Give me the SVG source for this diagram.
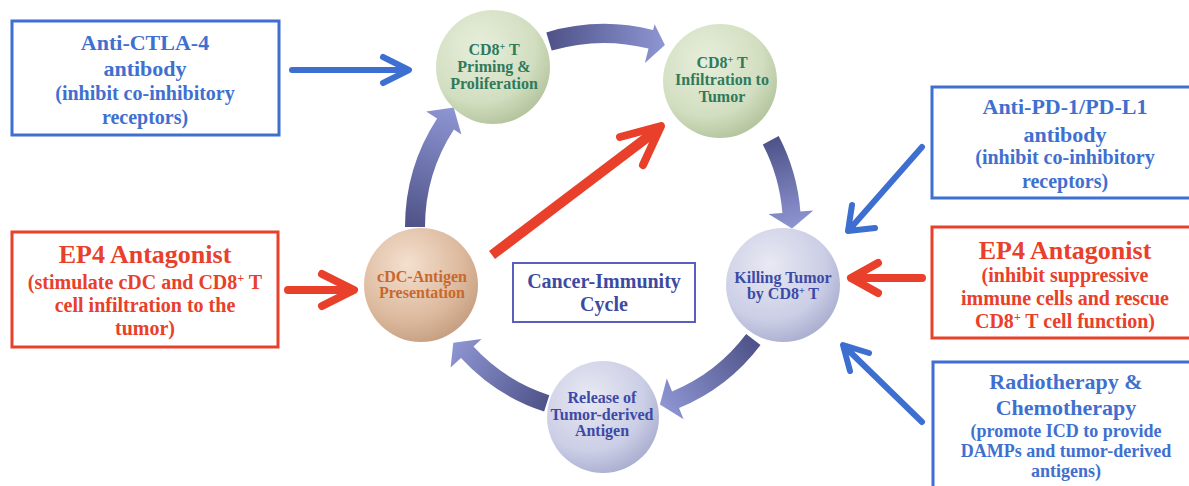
<svg xmlns="http://www.w3.org/2000/svg" width="1189" height="486" viewBox="0 0 1189 486">
  <style>
    text { font-family: "Liberation Serif", "Times New Roman", serif; font-weight: bold; text-anchor: middle; }
    .blue { fill: #4070cf; }
    .red { fill: #e8402b; }
    .green-t { fill: #2f7a5b; font-size: 16px; }
    .orange-t { fill: #c9682d; font-size: 16px; }
    .lav-t { fill: #3c4aa6; font-size: 16px; }
    .title { font-size: 22px; }
    .ep4 { font-size: 26px; }
    .sub { font-size: 20px; }
    .small { font-size: 18px; }
    .box-blue { fill: #ffffff; stroke: #3f6fd0; stroke-width: 3; }
    .box-red { fill: #ffffff; stroke: #e8402b; stroke-width: 3; }
    .line-blue { fill: none; stroke: #3d6fd0; stroke-width: 6; stroke-linecap: round; stroke-linejoin: round; }
    .line-red { fill: none; stroke: #e8402b; stroke-width: 8; stroke-linecap: round; stroke-linejoin: round; }
    .line-red-big { fill: none; stroke: #e8402b; stroke-width: 10; stroke-linecap: butt; stroke-linejoin: round; }
  </style>
  <defs>
    <radialGradient id="gGreen" cx="0.38" cy="0.32" r="0.75">
      <stop offset="0" stop-color="#e7eedb"/>
      <stop offset="0.65" stop-color="#d2dec0"/>
      <stop offset="1" stop-color="#afc098"/>
    </radialGradient>
    <radialGradient id="gPeach" cx="0.38" cy="0.32" r="0.75">
      <stop offset="0" stop-color="#f4e0cf"/>
      <stop offset="0.65" stop-color="#dcb99d"/>
      <stop offset="1" stop-color="#c39b7d"/>
    </radialGradient>
    <radialGradient id="gLav" cx="0.38" cy="0.32" r="0.75">
      <stop offset="0" stop-color="#e8e9f3"/>
      <stop offset="0.65" stop-color="#cbcee5"/>
      <stop offset="1" stop-color="#a5aacd"/>
    </radialGradient>
    <linearGradient id="a1" gradientUnits="userSpaceOnUse" x1="415" y1="227" x2="454" y2="108">
      <stop offset="0" stop-color="#4f5389"/><stop offset="1" stop-color="#8e96d3"/>
    </linearGradient>
    <linearGradient id="a2" gradientUnits="userSpaceOnUse" x1="549" y1="41" x2="665" y2="45">
      <stop offset="0" stop-color="#4f5389"/><stop offset="1" stop-color="#8e96d3"/>
    </linearGradient>
    <linearGradient id="a3" gradientUnits="userSpaceOnUse" x1="771" y1="140" x2="792" y2="229">
      <stop offset="0" stop-color="#4f5389"/><stop offset="1" stop-color="#8e96d3"/>
    </linearGradient>
    <linearGradient id="a4" gradientUnits="userSpaceOnUse" x1="753" y1="340" x2="660" y2="404">
      <stop offset="0" stop-color="#4f5389"/><stop offset="1" stop-color="#8e96d3"/>
    </linearGradient>
    <linearGradient id="a5" gradientUnits="userSpaceOnUse" x1="547" y1="403" x2="453" y2="343">
      <stop offset="0" stop-color="#4f5389"/><stop offset="1" stop-color="#8e96d3"/>
    </linearGradient>
  </defs>

  <rect width="1189" height="486" fill="#ffffff"/>

  <!-- connectors: curved cycle arrows, then straight intervention arrows -->
  <g id="connectors">
    <path id="cyc-1" fill="url(#a1)" d="M405,227 A199,199 0 0 1 437.1,118.6 L426.2,111.5 L453.7,107.5 L461.4,134.4 L453.9,129.5 A179,179 0 0 0 425,227 Z"/>
    <path id="cyc-2" fill="url(#a2)" d="M546.3,32.4 A203,203 0 0 1 653.1,30.0 L654.6,24.2 L664.9,44.9 L644.9,63.0 L648.5,48.5 A184,184 0 0 0 551.7,50.6 Z"/>
    <path id="cyc-3" fill="url(#a3)" d="M778.7,136.0 A197,197 0 0 1 800.4,211.5 L813.3,210.5 L792,228.6 L768.5,214.0 L782.4,212.9 A179,179 0 0 0 762.8,144.4 Z"/>
    <path id="cyc-4" fill="url(#a4)" d="M760.5,345.0 A196,196 0 0 1 679.0,408.1 L683.6,419.2 L659.9,404.4 L666.8,378.5 L672.1,391.5 A178,178 0 0 0 746.2,334.1 Z"/>
    <path id="cyc-5" fill="url(#a5)" d="M544.1,411.5 A194,194 0 0 1 461.0,358.1 L450.6,367.5 L453.3,342.7 L481.6,339.1 L473.5,346.6 A177,177 0 0 0 549.3,395.3 Z"/>

    <!-- Anti-CTLA-4 to priming -->
    <path class="line-blue" d="M292,70 L407,70 M383,57 L409,70 L383,83"/>
    <!-- left EP4 antagonist to cDC -->
    <path class="line-red" d="M288,290 L352,290 M322,274 L354,290 L322,306"/>
    <!-- cDC to infiltration -->
    <path class="line-red-big" d="M492,255 L657,130"/>
    <path class="line-red" d="M620,137 L661,126 L643,165"/>
    <!-- Anti-PD-1/PD-L1 to killing -->
    <path class="line-blue" d="M922,147 L849,230 M852,205 L848,231 L875,228"/>
    <!-- right EP4 antagonist to killing -->
    <path class="line-red" d="M922,278 L853,278 M878,263 L851,278 L878,293"/>
    <!-- radiotherapy to killing -->
    <path class="line-blue" d="M922,422 L845,347 M869,353 L843,345 L850,371"/>
  </g>

  <!-- cycle stages -->
  <g id="node-priming">
    <circle cx="493" cy="67" r="57" fill="url(#gGreen)"/>
    <text class="green-t" x="494" y="55">CD8<tspan font-size="10" baseline-shift="super">+</tspan> T</text>
    <text class="green-t" x="494" y="72">Priming &amp;</text>
    <text class="green-t" x="494" y="89">Proliferation</text>
  </g>
  <g id="node-infiltration">
    <circle cx="720" cy="81" r="57" fill="url(#gGreen)"/>
    <text class="green-t" x="722" y="68">CD8<tspan font-size="10" baseline-shift="super">+</tspan> T</text>
    <text class="green-t" x="722" y="85">Infiltration to</text>
    <text class="green-t" x="722" y="102">Tumor</text>
  </g>
  <g id="node-killing">
    <circle cx="783" cy="285" r="57" fill="url(#gLav)"/>
    <text class="lav-t" x="783" y="283">Killing Tumor</text>
    <text class="lav-t" x="783" y="299">by CD8<tspan font-size="10" baseline-shift="super">+</tspan> T</text>
  </g>
  <g id="node-release">
    <circle cx="603" cy="417" r="56" fill="url(#gLav)"/>
    <text class="lav-t" x="602" y="403">Release of</text>
    <text class="lav-t" x="602" y="420">Tumor-derived</text>
    <text class="lav-t" x="602" y="436">Antigen</text>
  </g>
  <g id="node-cdc">
    <circle cx="421" cy="285" r="57" fill="url(#gPeach)"/>
    <text class="orange-t" x="422" y="282">cDC-Antigen</text>
    <text class="orange-t" x="422" y="298">Presentation</text>
  </g>

  <g id="node-cycle-label">
    <rect x="513" y="263" width="182" height="59" fill="#ffffff" stroke="#5a5fbf" stroke-width="2"/>
    <text x="604" y="288" font-size="20" fill="#3d4aa2">Cancer-Immunity</text>
    <text x="604" y="311" font-size="20" fill="#3d4aa2">Cycle</text>
  </g>

  <!-- interventions -->
  <g id="node-anti-ctla4">
    <rect class="box-blue" x="12" y="21" width="267" height="114"/>
    <text class="blue title" x="145" y="50">Anti-CTLA-4</text>
    <text class="blue title" x="145" y="76">antibody</text>
    <text class="blue sub" x="145" y="100">(inhibit co-inhibitory</text>
    <text class="blue sub" x="145" y="124">receptors)</text>
  </g>
  <g id="node-ep4-left">
    <rect class="box-red" x="12" y="232" width="266" height="115"/>
    <text class="red ep4" x="145" y="263">EP4 Antagonist</text>
    <text class="red sub" x="145" y="289">(stimulate cDC and CD8<tspan font-size="12" baseline-shift="super">+</tspan> T</text>
    <text class="red sub" x="145" y="312">cell infiltration to the</text>
    <text class="red sub" x="145" y="335">tumor)</text>
  </g>
  <g id="node-anti-pd1">
    <rect class="box-blue" x="932" y="87" width="266" height="111"/>
    <text class="blue title" x="1065" y="114">Anti-PD-1/PD-L1</text>
    <text class="blue title" x="1065" y="142">antibody</text>
    <text class="blue sub" x="1065" y="164">(inhibit co-inhibitory</text>
    <text class="blue sub" x="1065" y="188">receptors)</text>
  </g>
  <g id="node-ep4-right">
    <rect class="box-red" x="932" y="227" width="266" height="111"/>
    <text class="red ep4" x="1065" y="259">EP4 Antagonist</text>
    <text class="red sub" x="1065" y="282">(inhibit suppressive</text>
    <text class="red sub" x="1065" y="305">immune cells and rescue</text>
    <text class="red sub" x="1065" y="328">CD8<tspan font-size="12" baseline-shift="super">+</tspan> T cell function)</text>
  </g>
  <g id="node-radio-chemo">
    <rect class="box-blue" x="933" y="362" width="266" height="140"/>
    <text class="blue title" x="1066" y="389">Radiotherapy &amp;</text>
    <text class="blue title" x="1066" y="415">Chemotherapy</text>
    <text class="blue small" x="1066" y="437">(promote ICD to provide</text>
    <text class="blue small" x="1066" y="457">DAMPs and tumor-derived</text>
    <text class="blue small" x="1066" y="477">antigens)</text>
  </g>
</svg>
